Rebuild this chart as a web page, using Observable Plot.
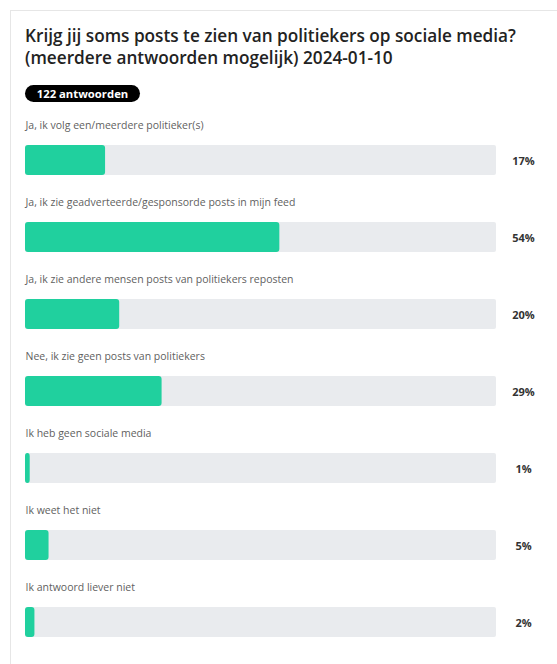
<!DOCTYPE html>
<html>
<head>
<meta charset="utf-8">
<script src="https://cdn.jsdelivr.net/npm/d3@7"></script>
<script src="https://cdn.jsdelivr.net/npm/@observablehq/plot@0.6"></script>
<style>
  html, body { margin: 0; padding: 0; background: #fff; }
  body { width: 557px; height: 664px; position: relative; overflow: hidden; font-family: "Open Sans", sans-serif; }
  #card { position: absolute; left: 10px; top: 10px; width: 600px; height: 700px; border-left: 1px solid #e6e6e6; border-top: 1px solid #e6e6e6; box-sizing: border-box; }
  #title { position: absolute; left: 25px; top: 25px; width: 525px; font-size: 17.2px; line-height: 22px; font-weight: 600; color: #222; }
  #badge { position: absolute; left: 25px; top: 85px; width: 115px; height: 17px; border-radius: 9px; background: #000; color: #fff; font-size: 11.3px; font-weight: 700; line-height: 17px; text-align: center; }
  #chart { position: absolute; left: 0; top: 110px; }
</style>
</head>
<body>
<div id="card"></div>
<div id="title"></div>
<div id="badge"></div>
<div id="chart"></div>
<script>
const titleLines = [
  "Krijg jij soms posts te zien van politiekers op sociale media?",
  "(meerdere antwoorden mogelijk) 2024-01-10"
];
const responseCount = 122;
const responseLabel = "antwoorden";
const categories = [
  "Ja, ik volg een/meerdere politieker(s)",
  "Ja, ik zie geadverteerde/gesponsorde posts in mijn feed",
  "Ja, ik zie andere mensen posts van politiekers reposten",
  "Nee, ik zie geen posts van politiekers",
  "Ik heb geen sociale media",
  "Ik weet het niet",
  "Ik antwoord liever niet"
];
const percentages = [17, 54, 20, 29, 1, 5, 2];

document.getElementById("title").innerHTML = titleLines.join("<br>");
document.getElementById("badge").textContent = responseCount + " " + responseLabel;

const data = categories.map((c, i) => ({answer: c, pct: percentages[i]}));

const chart = Plot.plot({
  width: 557,
  height: 554,
  marginLeft: 25,
  marginRight: 61,
  marginTop: 0,
  marginBottom: 0,
  style: {fontFamily: "'Open Sans', sans-serif", background: "transparent"},
  x: {domain: [0, 100], axis: null},
  y: {domain: categories, range: [34, 528], paddingInner: 0.612, paddingOuter: 0, axis: null},
  marks: [
    Plot.barX(data, {x1: 0, x2: 100, y: "answer", fill: "#e9ebee", rx: 2}),
    Plot.barX(data, {x1: 0, x2: "pct", y: "answer", fill: "#20d09e", rx: 3}),
    Plot.text(data, {y: "answer", text: "answer", frameAnchor: "left", textAnchor: "start", dy: -35, fontSize: 10.5, fill: "#5f5f5f"}),
    Plot.text(data, {y: "answer", text: d => d.pct + "%", frameAnchor: "right", textAnchor: "middle", dx: 27, dy: 1, fontSize: 11, fontWeight: "bold", fill: "#333"})
  ]
});
document.getElementById("chart").appendChild(chart);
</script>
</body>
</html>
